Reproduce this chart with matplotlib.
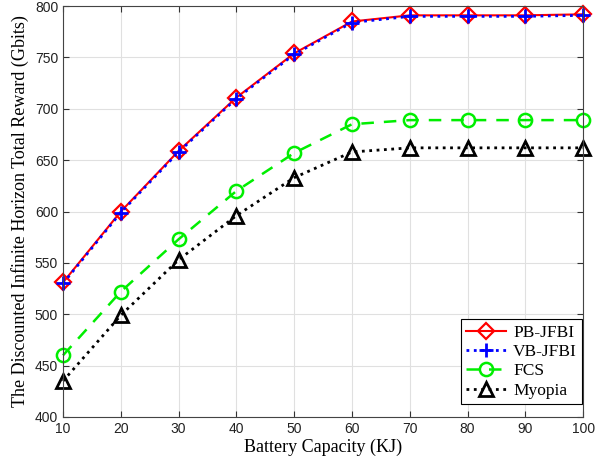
import matplotlib
matplotlib.use("Agg")
import matplotlib.pyplot as plt

capacity = [10, 20, 30, 40, 50, 60, 70, 80, 90, 100]
pb_jfbi = [531, 600, 659, 711, 754, 785, 791, 791, 791, 792]
vb_jfbi = [530, 599, 658, 710, 753, 784, 790, 790, 790, 791]
fcs = [460, 522, 573, 620, 657, 685, 689, 689, 689, 689]
myopia = [435, 499, 553, 596, 633, 658, 662, 662, 662, 662]

fig = plt.figure(figsize=(6, 4.68), dpi=100)
ax = fig.add_axes([0.105, 0.109, 0.867, 0.878])

ax.plot(capacity, pb_jfbi, color="red", linestyle="-", linewidth=1.5,
        marker="D", markersize=8, markerfacecolor="none", markeredgewidth=1.6,
        label="PB-JFBI", clip_on=False)
ax.plot(capacity, vb_jfbi, color="blue", linestyle=":", linewidth=2,
        marker="+", markersize=10, markeredgewidth=2, label="VB-JFBI", clip_on=False)
ax.plot(capacity, fcs, color="#00ee00", linestyle=(0, (5, 4)), linewidth=1.8,
        marker="o", markersize=9.5, markerfacecolor="none", markeredgewidth=1.8,
        label="FCS", clip_on=False)
ax.plot(capacity, myopia, color="black", linestyle=":", linewidth=2,
        marker="^", markersize=10.5, markerfacecolor="none", markeredgewidth=2,
        label="Myopia", clip_on=False)

ax.set_xlim(10, 100)
ax.set_ylim(400, 800)
ax.set_xticks(capacity)
ax.set_yticks(range(400, 801, 50))
ax.grid(True, color="#e0e0e0", linewidth=0.8)
ax.set_axisbelow(True)
ax.tick_params(direction="in", top=True, right=True, labelsize=10,
               length=4, color="#333333", labelcolor="#222222")
for lab in ax.get_xticklabels() + ax.get_yticklabels():
    lab.set_family("Liberation Sans")
for s in ax.spines.values():
    s.set_color("#444444")

ax.set_xlabel("Battery Capacity (KJ)", family="Liberation Serif", fontsize=13, labelpad=2)
ax.set_ylabel("The Discounted Infinite Horizon Total Reward (Gbits)",
              family="Liberation Serif", fontsize=13, labelpad=4)

leg = ax.legend(loc="lower right", bbox_to_anchor=(0.998, 0.032),
                prop={"family": "Liberation Serif", "size": 12.5},
                fancybox=False, edgecolor="black", framealpha=1,
                handlelength=2.3, borderpad=0.3, labelspacing=0.18,
                handletextpad=0.4, borderaxespad=0)
leg.get_frame().set_linewidth(0.8)

fig.savefig("out.png", dpi=100)
